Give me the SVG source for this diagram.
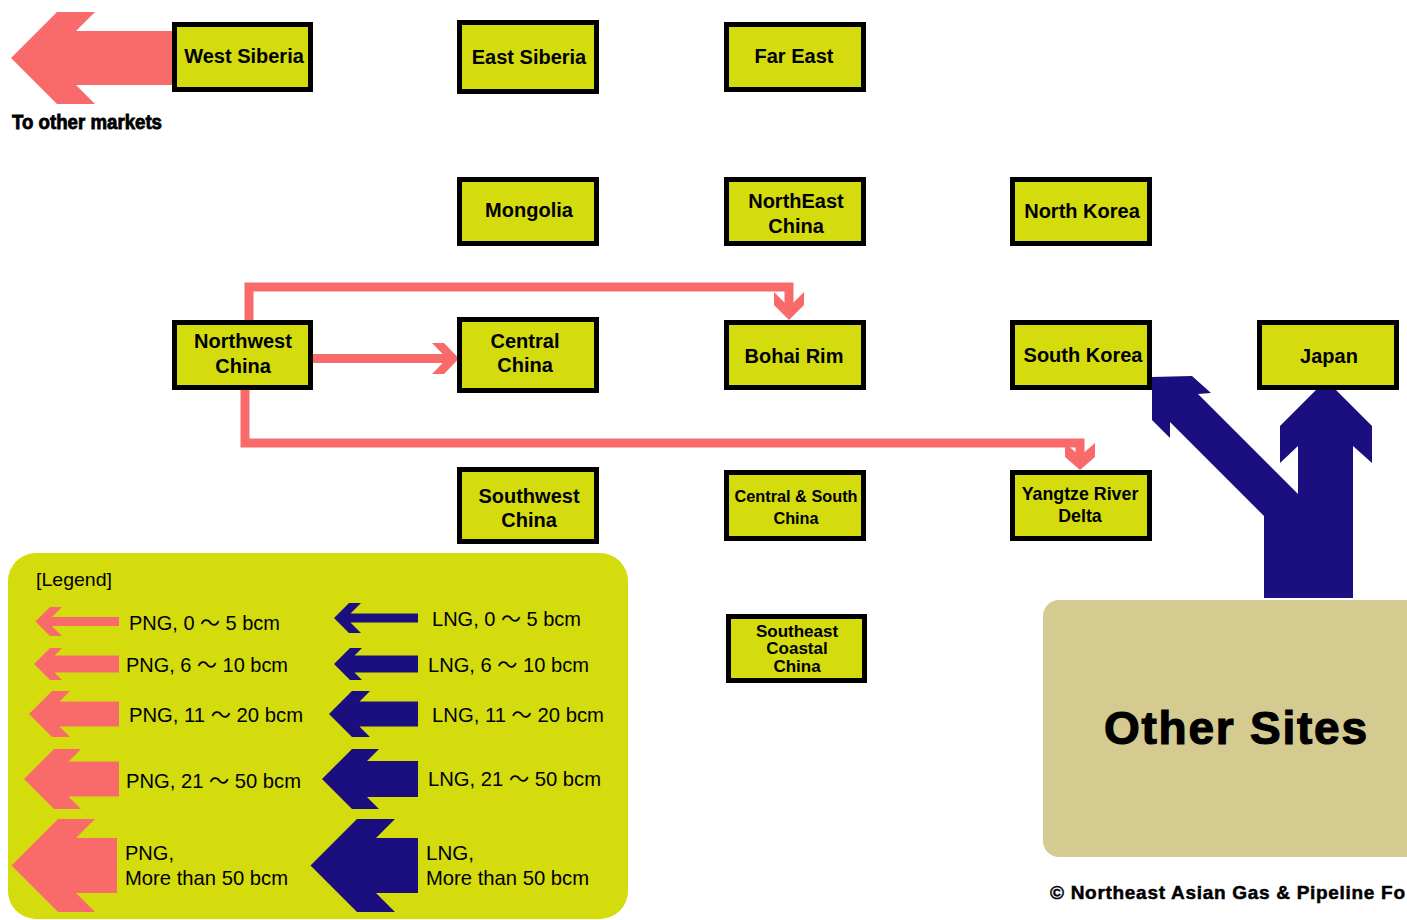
<svg xmlns="http://www.w3.org/2000/svg" width="1407" height="920" viewBox="0 0 1407 920">
<style>
.node rect{fill:#d4dc0e;stroke:#000;stroke-width:5}
.lbl{font-family:"Liberation Sans",Arial,sans-serif;font-weight:bold;font-size:20px;text-anchor:middle;fill:#000}
.png{fill:#f96a6a}
.lng{fill:#1b0f80}
.conn{fill:none;stroke:#f96a6a;stroke-width:9;stroke-linejoin:miter}
.leg{font-family:"Liberation Sans","Noto Sans CJK JP",Arial,sans-serif;font-size:21px;fill:#000}
.heavy{font-family:"Liberation Sans",Arial,sans-serif;font-weight:bold;fill:#000;stroke:#000}
</style>
<rect width="1407" height="920" fill="#fff"/>

<!-- big pink arrow to other markets -->
<g id="to-other-markets">
<polygon class="png" points="11,58 57,12 95,12 76,31 176,31 176,85 76,85 95,104 57,104"/>
<text class="heavy" x="12" y="129" font-size="20" stroke-width="0.8" textLength="150" lengthAdjust="spacingAndGlyphs">To other markets</text>
</g>

<!-- connectors -->
<g id="connectors">
<polyline class="conn" points="249,325 249,287 789,287 789,310"/>
<polygon class="png" points="774,292 789,307 804,292 804,305 789,320 774,305"/>
<line class="conn" x1="310" y1="358.5" x2="449" y2="358.5"/>
<polygon class="png" points="432,343 444,343 459,358.5 444,374 432,374 447,358.5"/>
<polyline class="conn" points="245,386 245,443 1080,443 1080,460"/>
<polygon class="png" points="1065,443 1080,456 1095,443 1095,457 1080,470 1065,457"/>
<polygon class="lng" points="1152,377 1192,376 1211,393 1198,394 1298,494 1298,446 1280,463 1280,426 1326,380 1372,426 1372,463 1353,446 1353,598 1264,598 1264,516 1170,422 1170,438 1152,420"/>
</g>

<!-- nodes -->
<g id="west-siberia" class="node"><rect x="174.5" y="24.5" width="136" height="65"/><text class="lbl" x="244" y="63">West Siberia</text></g>
<g id="east-siberia" class="node"><rect x="459.5" y="22.5" width="137" height="69"/><text class="lbl" x="529" y="64">East Siberia</text></g>
<g id="far-east" class="node"><rect x="726.5" y="24.5" width="137" height="65"/><text class="lbl" x="794" y="63">Far East</text></g>
<g id="mongolia" class="node"><rect x="459.5" y="179.5" width="137" height="64"/><text class="lbl" x="529" y="217">Mongolia</text></g>
<g id="northeast-china" class="node"><rect x="726.5" y="179.5" width="137" height="64"/><text class="lbl" x="796" y="208">NorthEast</text><text class="lbl" x="796" y="233">China</text></g>
<g id="north-korea" class="node"><rect x="1012.5" y="179.5" width="137" height="64"/><text class="lbl" x="1082" y="218">North Korea</text></g>
<g id="northwest-china" class="node"><rect x="174.5" y="322.5" width="136" height="65"/><text class="lbl" x="243" y="348">Northwest</text><text class="lbl" x="243" y="373">China</text></g>
<g id="central-china" class="node"><rect x="459.5" y="319.5" width="137" height="71"/><text class="lbl" x="525" y="348">Central</text><text class="lbl" x="525" y="372">China</text></g>
<g id="bohai-rim" class="node"><rect x="726.5" y="322.5" width="137" height="65"/><text class="lbl" x="794" y="363">Bohai Rim</text></g>
<g id="south-korea" class="node"><rect x="1012.5" y="322.5" width="137" height="65"/><text class="lbl" x="1083" y="362">South Korea</text></g>
<g id="japan" class="node"><rect x="1259.5" y="322.5" width="137" height="65"/><text class="lbl" x="1329" y="363">Japan</text></g>
<g id="southwest-china" class="node"><rect x="459.5" y="469.5" width="137" height="72"/><text class="lbl" x="529" y="503">Southwest</text><text class="lbl" x="529" y="527">China</text></g>
<g id="central-south-china" class="node"><rect x="726.5" y="472.5" width="137" height="66"/><text class="lbl" x="796" y="502" style="font-size:16.3px">Central &amp; South</text><text class="lbl" x="796" y="524" style="font-size:16.3px">China</text></g>
<g id="yangtze-river-delta" class="node"><rect x="1012.5" y="472.5" width="137" height="66"/><text class="lbl" x="1080" y="500" style="font-size:17.8px">Yangtze River</text><text class="lbl" x="1080" y="522" style="font-size:17.8px">Delta</text></g>
<g id="southeast-coastal-china" class="node"><rect x="728.5" y="616.5" width="136" height="64"/><text class="lbl" x="797" y="637" style="font-size:17px">Southeast</text><text class="lbl" x="797" y="654" style="font-size:17px">Coastal</text><text class="lbl" x="797" y="672" style="font-size:17px">China</text></g>

<g id="other-sites">
<rect x="1043" y="600" width="390" height="257" rx="16" fill="#d5cb91"/>
<text class="heavy" x="1235.5" y="744" font-size="46" stroke-width="1.2" text-anchor="middle" textLength="263" lengthAdjust="spacing">Other Sites</text>
</g>

<text class="heavy" x="1050" y="899" font-size="19" stroke-width="0.5" textLength="355" lengthAdjust="spacing">© Northeast Asian Gas &amp; Pipeline Fo</text>

<!-- legend -->
<g id="legend">
<rect x="8" y="553" width="620" height="366" rx="28" fill="#d4dc0e"/>
<text class="leg" x="36" y="586" style="font-size:19px" textLength="76" lengthAdjust="spacingAndGlyphs">[Legend]</text>
<polygon class="png" points="35.5,621.5 50,607 62,607 52,617 119,617 119,626 52,626 62,636 50,636"/>
<polygon class="png" points="34,664 50,648 62,648 54.5,655.5 119,655.5 119,672.5 54.5,672.5 62,680 50,680"/>
<polygon class="png" points="29,714 52,691 70,691 59.5,701.5 119,701.5 119,726.5 59.5,726.5 70,737 52,737"/>
<polygon class="png" points="24,779 54,749 81,749 68.5,761.5 119,761.5 119,796.5 68.5,796.5 81,809 54,809"/>
<polygon class="png" points="11.5,865.5 58,819 95,819 76,838 117,838 117,893 76,893 95,912 58,912"/>
<polygon class="lng" points="334,618 349,603 361,603 350.5,613.5 418,613.5 418,622.5 350.5,622.5 361,633 349,633"/>
<polygon class="lng" points="334,664 350,648 362,648 354.5,655.5 418,655.5 418,672.5 354.5,672.5 362,680 350,680"/>
<polygon class="lng" points="329,714 352,691 370,691 359.5,701.5 418,701.5 418,726.5 359.5,726.5 370,737 352,737"/>
<polygon class="lng" points="322,779 352,749 379,749 367,761 418,761 418,797 367,797 379,809 352,809"/>
<polygon class="lng" points="310.5,865.5 357,819 395,819 376,838 418,838 418,893 376,893 395,912 357,912"/>
<text class="leg" x="129" y="630" textLength="151" lengthAdjust="spacingAndGlyphs">PNG, 0 ～ 5 bcm</text>
<text class="leg" x="126" y="672" textLength="162" lengthAdjust="spacingAndGlyphs">PNG, 6 ～ 10 bcm</text>
<text class="leg" x="129" y="722" textLength="174" lengthAdjust="spacingAndGlyphs">PNG, 11 ～ 20 bcm</text>
<text class="leg" x="126" y="788" textLength="175" lengthAdjust="spacingAndGlyphs">PNG, 21 ～ 50 bcm</text>
<text class="leg" x="125" y="860" textLength="49" lengthAdjust="spacingAndGlyphs">PNG,</text>
<text class="leg" x="125" y="885" textLength="163" lengthAdjust="spacingAndGlyphs">More than 50 bcm</text>
<text class="leg" x="432" y="626" textLength="149" lengthAdjust="spacingAndGlyphs">LNG, 0 ～ 5 bcm</text>
<text class="leg" x="428" y="672" textLength="161" lengthAdjust="spacingAndGlyphs">LNG, 6 ～ 10 bcm</text>
<text class="leg" x="432" y="722" textLength="172" lengthAdjust="spacingAndGlyphs">LNG, 11 ～ 20 bcm</text>
<text class="leg" x="428" y="786" textLength="173" lengthAdjust="spacingAndGlyphs">LNG, 21 ～ 50 bcm</text>
<text class="leg" x="426" y="860" textLength="48" lengthAdjust="spacingAndGlyphs">LNG,</text>
<text class="leg" x="426" y="885" textLength="163" lengthAdjust="spacingAndGlyphs">More than 50 bcm</text>
</g>
</svg>
